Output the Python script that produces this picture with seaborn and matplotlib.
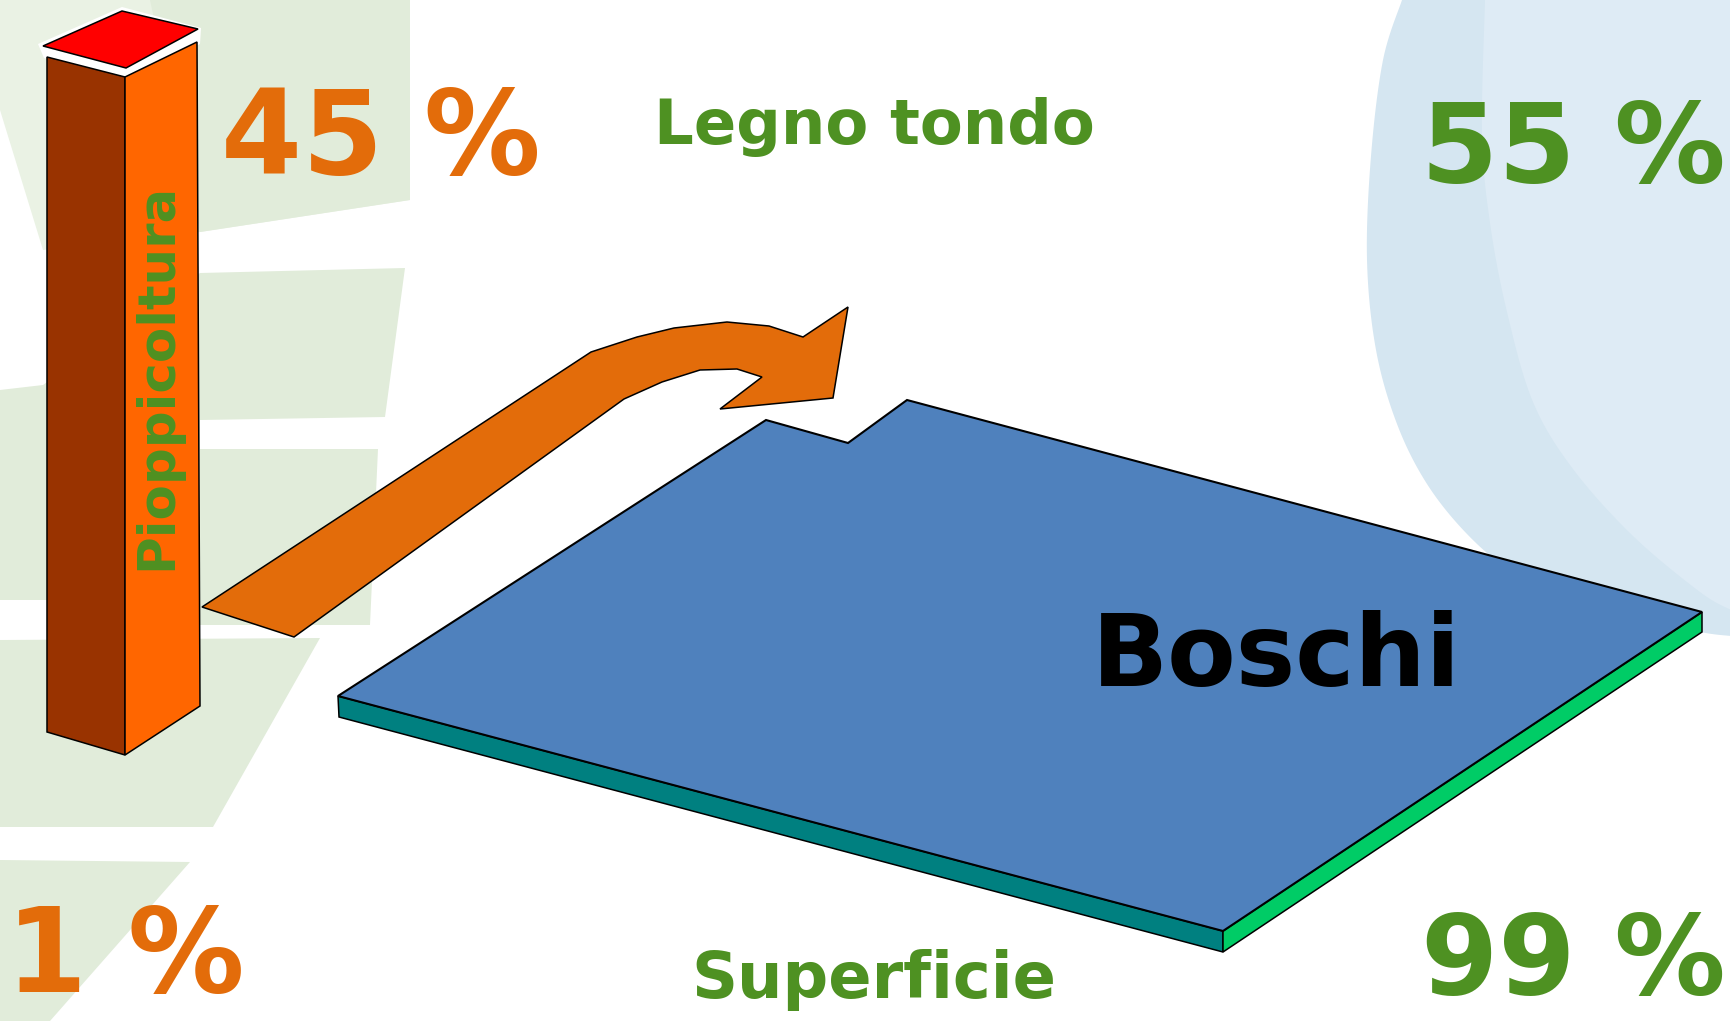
import matplotlib
matplotlib.use("Agg")
import matplotlib.pyplot as plt
from matplotlib.patches import Polygon
import numpy as np
import seaborn as sns

# ---------------- data ----------------
categories = ["Pioppicoltura", "Boschi"]
measures = ["Legno tondo", "Superficie"]
legno_tondo_pct = [45, 55]
superficie_pct = [1, 99]

# ---------------- style ----------------
sns.set_theme(style="white")
plt.rcParams["font.family"] = ["DejaVu Sans"]

ORANGE_TXT = "#E36C0A"
GREEN_TXT = "#4E9122"
W, H = 1731, 1021

fig = plt.figure(figsize=(W / 100, H / 100), dpi=100)
ax = fig.add_axes([0, 0, 1, 1])
ax.set_xlim(0, W)
ax.set_ylim(H, 0)
ax.axis("off")


def poly(pts, fc, ec="none", lw=0.0, z=1, **kw):
    p = Polygon(pts, closed=True, facecolor=fc, edgecolor=ec, linewidth=lw,
                joinstyle="miter", zorder=z, **kw)
    ax.add_patch(p)
    return p


def smooth(pts, n=12):
    """Catmull-Rom smoothing of an open outline (decoration only)."""
    p = np.asarray(pts, float)
    p = np.vstack([p[0], p, p[-1]])
    out = []
    for i in range(1, len(p) - 2):
        p0, p1, p2, p3 = p[i - 1], p[i], p[i + 1], p[i + 2]
        for t in np.linspace(0, 1, n, endpoint=False):
            t2, t3 = t * t, t * t * t
            out.append(0.5 * ((2 * p1) + (-p0 + p2) * t
                              + (2 * p0 - 5 * p1 + 4 * p2 - p3) * t2
                              + (-p0 + 3 * p1 - 3 * p2 + p3) * t3))
    out.append(p[-2])
    return [tuple(q) for q in out]


# ---------------- background decorations ----------------
bg_green = "#E1ECDA"
bg_green2 = "#EAF2E4"
poly([(0, 0), (410, 0), (410, 200), (200, 232), (43, 250), (0, 110)], bg_green2, z=0)
poly([(150, 0), (410, 0), (410, 200), (200, 232)], bg_green, z=0)
poly([(0, 390), (43, 385), (200, 273), (405, 268), (385, 417), (200, 420), (200, 600), (0, 600)], bg_green, z=0)
poly([(200, 449), (378, 449), (370, 625), (200, 625)], bg_green, z=0)
poly([(0, 640), (320, 638), (213, 827), (0, 827)], bg_green, z=0)
poly([(0, 860), (190, 862), (50, 1021), (0, 1021)], bg_green, z=0)

outer_edge = [(1402, 0), (1383, 60), (1371, 156), (1367, 260), (1376, 350), (1397, 424),
              (1427, 484), (1467, 534), (1510, 570), (1567, 598), (1633, 617), (1700, 632),
              (1731, 636)]
inner_edge = [(1485, 0), (1482, 134), (1490, 223), (1507, 312), (1533, 402), (1573, 469),
              (1633, 536), (1700, 592), (1731, 610)]
poly(smooth(outer_edge) + [(1731, 638), (1731, 0)], "#D5E6F1", z=0)
poly(smooth(inner_edge) + [(1731, 0)], "#DEEBF5", z=0)

EDGE = 1.1

# ---------------- 3D bar (Pioppicoltura) ----------------
poly([(38, 44), (122, 7), (201, 28), (200, 44), (125, 80), (44, 58)], "white", z=2)
poly([(43, 46), (122, 11), (198, 29), (126, 68)], "#FF0000", "black", EDGE, z=3)
poly([(47, 57), (125, 77), (125, 755), (47, 732)], "#993300", "black", EDGE, z=3)
poly([(125, 77), (197, 42), (200, 706), (125, 755)], "#FF6600", "black", EDGE, z=3)

ax.text(157, 376, categories[0], rotation=90, rotation_mode="anchor",
        ha="center", va="center", fontsize=37, fontweight="bold",
        color=GREEN_TXT, zorder=5)

# ---------------- arrow ----------------
arrow = [(202, 607), (591, 352), (637, 337), (674, 328), (727, 322), (769, 326),
         (803, 337), (848, 307), (833, 398), (720, 409), (762, 377), (737, 369),
         (700, 370), (662, 382), (624, 399), (294, 637)]
poly(arrow, "#E36C0A", "black", EDGE, z=3)

# ---------------- flat slab (Boschi) ----------------
poly([(338, 696), (1223, 931), (1223, 952), (339, 717)], "#008080", "black", EDGE, z=3)
poly([(1223, 931), (1702, 612), (1702, 632), (1223, 952)], "#00CC66", "black", EDGE, z=3)
poly([(338, 696), (766, 420), (848, 443), (907, 400), (1702, 612), (1223, 931)],
     "#4F81BD", "black", 1.5, z=4)

ax.text(1276, 686, categories[1], ha="center", va="baseline", fontsize=72,
        fontweight="bold", color="black", zorder=6)

# ---------------- labels ----------------
ax.text(874, 144, measures[0], ha="center", va="baseline", fontsize=45,
        fontweight="bold", color=GREEN_TXT, zorder=6)
ax.text(874, 998, measures[1], ha="center", va="baseline", fontsize=46,
        fontweight="bold", color=GREEN_TXT, zorder=6)

ax.text(381, 174, f"{legno_tondo_pct[0]} %", ha="center", va="baseline",
        fontsize=84, fontweight="bold", color=ORANGE_TXT, zorder=6)
ax.text(1726, 182, f"{legno_tondo_pct[1]} %", ha="right", va="baseline",
        fontsize=80, fontweight="bold", color=GREEN_TXT, zorder=6)
ax.text(6, 992, f"{superficie_pct[0]} %", ha="left", va="baseline",
        fontsize=84, fontweight="bold", color=ORANGE_TXT, zorder=6)
ax.text(1726, 994, f"{superficie_pct[1]} %", ha="right", va="baseline",
        fontsize=80, fontweight="bold", color=GREEN_TXT, zorder=6)

fig.savefig("out.png", dpi=100)
